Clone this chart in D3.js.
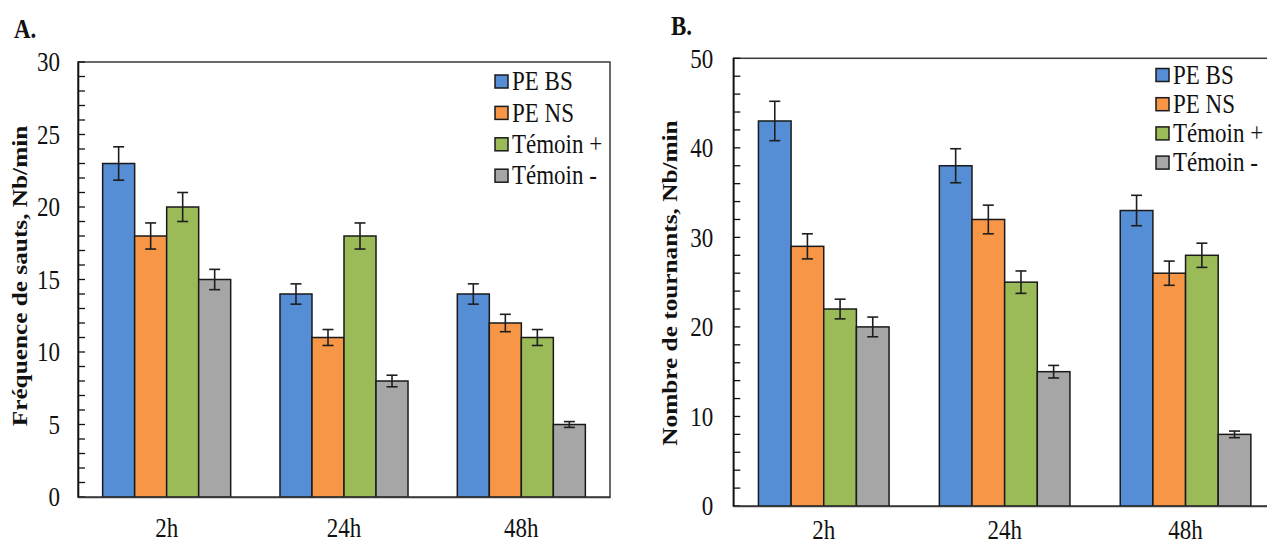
<!DOCTYPE html>
<html>
<head>
<meta charset="utf-8">
<script src="https://cdn.jsdelivr.net/npm/d3@7"></script>
<style>
  html, body { margin: 0; padding: 0; background: #fff; }
  svg { display: block; }
  text { font-family: "Liberation Serif", "Times New Roman", serif; fill: #111; }
</style>
</head>
<body>
<svg id="chart" width="1267" height="545"></svg>
<script>
// ---- Data ----
const categories = ["2h", "24h", "48h"];
const seriesNames = ["PE BS", "PE NS", "Témoin +", "Témoin -"];
const seriesColors = ["#558ed5", "#f79646", "#9bbb59", "#a6a6a6"];

// Panel A: Fréquence de sauts (Nb/min)
const jumpsPEBS = [23, 14, 14];
const jumpsPENS = [18, 11, 12];
const jumpsTemPlus = [20, 18, 11];
const jumpsTemMinus = [15, 8, 5];
const jumpsErrPEBS = [1.15, 0.7, 0.7];
const jumpsErrPENS = [0.9, 0.55, 0.6];
const jumpsErrTemPlus = [1.0, 0.9, 0.55];
const jumpsErrTemMinus = [0.7, 0.4, 0.2];
const yTicksA = [0, 5, 10, 15, 20, 25, 30];

// Panel B: Nombre de tournants (Nb/min)
const turnsPEBS = [43, 38, 33];
const turnsPENS = [29, 32, 26];
const turnsTemPlus = [22, 25, 28];
const turnsTemMinus = [20, 15, 8];
const turnsErrPEBS = [2.2, 1.9, 1.7];
const turnsErrPENS = [1.4, 1.6, 1.35];
const turnsErrTemPlus = [1.1, 1.25, 1.35];
const turnsErrTemMinus = [1.1, 0.7, 0.37];
const yTicksB = [0, 10, 20, 30, 40, 50];

// ---- Drawing ----
const svg = d3.select("#chart");
const SY = 1.15; // vertical stretch of glyphs in the reference

function drawPanel(p) {
  const g = svg.append("g");
  const x0 = d3.scaleBand().domain(categories).range([p.left, p.right]).padding(0);
  const x1 = d3.scaleBand().domain(seriesNames).range([0, x0.bandwidth()])
    .paddingInner(0).paddingOuter(0.77);
  const y = d3.scaleLinear().domain([0, p.yMax]).range([p.bottom, p.top]);

  // plot frame
  g.append("rect")
    .attr("x", p.left).attr("y", p.top)
    .attr("width", p.right - p.left).attr("height", p.bottom - p.top)
    .attr("fill", "none").attr("stroke", "#3a3a3a").attr("stroke-width", 1.5);

  // bars
  const rows = categories.map((c, i) => ({
    cat: c,
    items: seriesNames.map((s, k) => ({ s, k, v: p.values[k][i], e: p.errors[k][i] }))
  }));
  const grp = g.selectAll("g.cat").data(rows).join("g")
    .attr("transform", d => `translate(${x0(d.cat)},0)`);
  grp.selectAll("rect").data(d => d.items).join("rect")
    .attr("x", d => x1(d.s))
    .attr("y", d => y(d.v))
    .attr("width", x1.bandwidth())
    .attr("height", d => y(0) - y(d.v))
    .attr("fill", d => seriesColors[d.k])
    .attr("stroke", "#1a1a1a").attr("stroke-width", 1.5);

  // error bars
  const cap = 5.5;
  const eb = grp.selectAll("g.err").data(d => d.items).join("g")
    .attr("stroke", "#1e1e1e").attr("stroke-width", 1.6);
  eb.append("line")
    .attr("x1", d => x1(d.s) + x1.bandwidth() / 2).attr("x2", d => x1(d.s) + x1.bandwidth() / 2)
    .attr("y1", d => y(d.v + d.e)).attr("y2", d => y(d.v - d.e));
  eb.append("line")
    .attr("x1", d => x1(d.s) + x1.bandwidth() / 2 - cap).attr("x2", d => x1(d.s) + x1.bandwidth() / 2 + cap)
    .attr("y1", d => y(d.v + d.e)).attr("y2", d => y(d.v + d.e));
  eb.append("line")
    .attr("x1", d => x1(d.s) + x1.bandwidth() / 2 - cap).attr("x2", d => x1(d.s) + x1.bandwidth() / 2 + cap)
    .attr("y1", d => y(d.v - d.e)).attr("y2", d => y(d.v - d.e));

  // minor/major inside ticks
  g.append("g").selectAll("line").data(y.ticks(p.minorCount)).join("line")
    .attr("x1", p.left).attr("x2", p.left + 7)
    .attr("y1", d => y(d)).attr("y2", d => y(d))
    .attr("stroke", "#111").attr("stroke-width", 1.3);

  // y axis with labels
  const ya = g.append("g").attr("transform", `translate(${p.left},0)`)
    .call(d3.axisLeft(y).tickValues(p.yTicks).tickSize(0).tickPadding(p.tickPad));
  ya.select(".domain").attr("stroke", "#111").attr("stroke-width", 1.6);
  ya.selectAll("text")
    .attr("font-size", 23).attr("font-family", "Liberation Serif").attr("fill", "#141414")
    .attr("dy", "0.33em").attr("transform", `scale(1,${SY})`);

  // x axis labels
  const xa = g.append("g").attr("transform", `translate(0,${p.bottom})`)
    .call(d3.axisBottom(x0).tickSize(0));
  xa.select(".domain").attr("stroke", "#3a3a3a").attr("stroke-width", 1.5);
  xa.selectAll("text")
    .attr("font-size", 23).attr("font-family", "Liberation Serif").attr("fill", "#141414")
    .attr("y", 0).attr("dy", null)
    .attr("transform", `translate(0,${p.xLabelBase - p.bottom}) scale(1,${SY})`);

  // y title
  g.append("text")
    .attr("transform", `translate(${p.titleX},${p.titleY}) rotate(-90) scale(${SY},1)`)
    .attr("text-anchor", "middle")
    .attr("font-size", 22).attr("font-weight", "bold")
    .text(p.title);

  // panel letter
  g.append("text")
    .attr("transform", `translate(${p.letterX},${p.letterY}) scale(1,${SY})`)
    .attr("font-size", 23).attr("font-weight", "bold")
    .text(p.letter);

  // legend
  const lg = g.append("g").selectAll("g").data(seriesNames).join("g")
    .attr("transform", (d, i) => `translate(${p.legX},${p.legY + i * p.legStep})`);
  lg.append("rect")
    .attr("x", 0).attr("y", -6.5).attr("width", 13).attr("height", 13)
    .attr("fill", (d, i) => seriesColors[i])
    .attr("stroke", "#1a1a1a").attr("stroke-width", 1.5);
  lg.append("text")
    .attr("transform", `translate(17,0) scale(1,${SY})`)
    .attr("dy", "0.33em")
    .attr("font-size", 23)
    .text(d => d);
}

drawPanel({
  left: 78, right: 610, top: 62, bottom: 497, yMax: 30, minorCount: 30,
  yTicks: yTicksA, tickPad: 18, xLabelBase: 537,
  values: [jumpsPEBS, jumpsPENS, jumpsTemPlus, jumpsTemMinus],
  errors: [jumpsErrPEBS, jumpsErrPENS, jumpsErrTemPlus, jumpsErrTemMinus],
  title: "Fréquence de sauts, Nb/min", titleX: 27, titleY: 276,
  letter: "A.", letterX: 14, letterY: 38,
  legX: 495, legY: 81.5, legStep: 31.4
});

drawPanel({
  left: 733.3, right: 1276, top: 58.3, bottom: 506, yMax: 50, minorCount: 25,
  yTicks: yTicksB, tickPad: 20, xLabelBase: 539,
  values: [turnsPEBS, turnsPENS, turnsTemPlus, turnsTemMinus],
  errors: [turnsErrPEBS, turnsErrPENS, turnsErrTemPlus, turnsErrTemMinus],
  title: "Nombre de tournants, Nb/min", titleX: 677, titleY: 283,
  letter: "B.", letterX: 671, letterY: 35,
  legX: 1156, legY: 75, legStep: 29.2
});
</script>
</body>
</html>
